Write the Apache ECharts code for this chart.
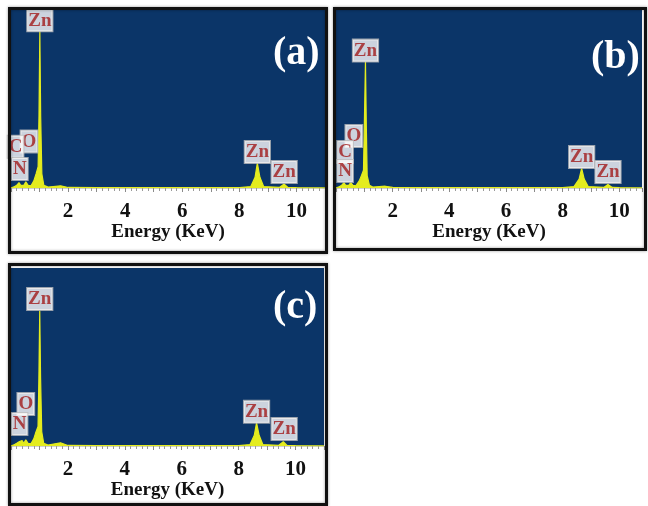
<!DOCTYPE html>
<html>
<head>
<meta charset="utf-8">
<script src="https://cdn.jsdelivr.net/npm/echarts@6/dist/echarts.min.js"></script>
<style>
  html, body { margin: 0; padding: 0; background: #fff; }
  #chart { width: 648px; height: 506px; }
</style>
</head>
<body>
<div id="chart"></div>
<script>
// EDS spectra, counts in % of the plot height
const spectrumA = [[0, 0], [0.1, 0.6], [0.2, 1.5], [0.28, 3], [0.34, 1.5], [0.39, 2.5], [0.45, 1.5], [0.52, 3.5], [0.6, 1.5], [0.7, 1.2], [0.8, 4], [0.88, 8], [0.95, 12], [0.98, 40], [1.01, 88], [1.04, 40], [1.08, 8], [1.15, 1.5], [1.3, 0.5], [1.74, 1.2], [2, 0.3], [3, 0.2], [4, 0.2], [5, 0.2], [6, 0.2], [7, 0.2], [8, 0.2], [8.4, 0.8], [8.55, 6], [8.63, 14], [8.72, 6], [8.85, 0.8], [9.4, 0.3], [9.57, 2.2], [9.7, 0.3], [10, 0.2], [11, 0.1]]
const spectrumB = [[0, 0], [0.1, 0.6], [0.2, 1.5], [0.28, 3], [0.34, 1.5], [0.39, 2.5], [0.45, 1.5], [0.52, 3], [0.6, 1.5], [0.7, 1.2], [0.82, 4], [0.9, 7], [0.97, 10], [1.0, 35], [1.04, 71], [1.07, 35], [1.1, 7], [1.18, 1.5], [1.3, 0.5], [1.74, 1], [2, 0.3], [3, 0.2], [4, 0.2], [5, 0.2], [6, 0.2], [7, 0.2], [8, 0.2], [8.4, 0.8], [8.58, 5], [8.67, 11], [8.76, 5], [8.9, 0.8], [9.45, 0.3], [9.6, 2], [9.75, 0.3], [10, 0.2], [10.8, 0.1]]
const spectrumC = [[0, 0], [0.1, 0.6], [0.2, 1.5], [0.3, 2.5], [0.39, 3], [0.45, 1.5], [0.52, 3.5], [0.6, 1.5], [0.7, 1.2], [0.8, 4], [0.88, 8], [0.95, 11], [0.98, 38], [1.01, 76], [1.04, 38], [1.08, 8], [1.15, 1.5], [1.3, 0.5], [1.74, 1.8], [2, 0.3], [3, 0.2], [4, 0.2], [5, 0.2], [6, 0.2], [7, 0.2], [8, 0.2], [8.4, 0.8], [8.55, 6], [8.63, 13], [8.72, 6], [8.85, 0.8], [9.4, 0.3], [9.57, 2.4], [9.7, 0.3], [10, 0.2], [11, 0.1]]

// peak labels: [element, energy, anchor height]
const labelsA = [['Zn', 1.01, 88], ['O', 0.63, 20], ['C', 0.16, 17], ['N', 0.31, 4.5], ['Zn', 8.63, 14], ['Zn', 9.57, 2.8]]
const labelsB = [['Zn', 1.04, 71], ['O', 0.63, 23], ['C', 0.32, 14], ['N', 0.32, 3.4], ['Zn', 8.67, 11.2], ['Zn', 9.6, 2.8]]
const labelsC = [['Zn', 1.01, 76.4], ['O', 0.52, 17.4], ['N', 0.3, 6.2], ['Zn', 8.63, 13], ['Zn', 9.6, 3.4]]

const panelNames = ['(a)', '(b)', '(c)']
const xMax = [11, 10.8, 11]
const xTitle = 'Energy (KeV)'

const serif = "'Liberation Serif', 'Times New Roman', serif"
const blue = '#0b3568'
const yellow = '#e4ec1e'

const chart = echarts.init(document.getElementById('chart'))

const grids = [
    {left: 11, top: 10, width: 314, height: 178},
    {left: 336, top: 10, width: 306, height: 178},
    {left: 11, top: 268, width: 313, height: 178}
]

const spectra = [spectrumA, spectrumB, spectrumC]
const labels = [labelsA, labelsB, labelsC]

const xAxes = grids.map((g, i) => ({
    type: 'value',
    gridIndex: i,
    min: 0,
    max: xMax[i],
    interval: 1,
    name: xTitle,
    nameLocation: 'middle',
    nameGap: 34,
    nameTextStyle: {fontFamily: serif, fontWeight: 'bold', fontSize: 19, color: '#111'},
    axisLine: {lineStyle: {color: '#d0d0d0', width: 1}},
    axisTick: {show: true, length: 4, lineStyle: {color: '#8a8a8a'}},
    minorTick: {show: true, splitNumber: 5, length: 3, lineStyle: {color: '#9a9a9a'}},
    splitLine: {show: false},
    axisLabel: {
        fontFamily: serif, fontWeight: 'bold', fontSize: 21, color: '#111', margin: 13,
        formatter: v => (v > 0 && v % 2 === 0) ? String(v) : ''
    }
}))

const yAxes = grids.map((g, i) => ({
    type: 'value',
    gridIndex: i,
    min: 0,
    max: 100,
    show: false
}))

const series = []
spectra.forEach((s, i) => {
    series.push({
        type: 'line',
        xAxisIndex: i,
        yAxisIndex: i,
        data: s,
        symbol: 'none',
        lineStyle: {color: yellow, width: 1.2},
        areaStyle: {color: yellow, opacity: 1},
        z: 2
    })
    series.push({
        type: 'scatter',
        xAxisIndex: i,
        yAxisIndex: i,
        symbolSize: 0,
        data: labels[i].map(l => ({value: [l[1], l[2]], name: l[0]})),
        label: {
            show: true,
            position: 'top',
            distance: 0,
            formatter: p => p.name,
            fontFamily: serif,
            fontWeight: 'bold',
            fontSize: 19,
            lineHeight: 21,
            color: '#a11b1b',
            backgroundColor: '#fcfbfb',
            borderColor: '#bdbdbd',
            borderWidth: 1,
            padding: [1, 1, 0, 1]
        },
        z: 5
    })
})

const option = {
    animation: false,
    backgroundColor: '#fff',
    title: [
        {text: panelNames[0], left: 268, top: 29},
        {text: panelNames[1], left: 586, top: 33},
        {text: panelNames[2], left: 268, top: 283}
    ].map(t => Object.assign(t, {
        textStyle: {fontFamily: serif, fontWeight: 'bold', fontSize: 40, color: '#fff'}
    })),
    grid: grids.map(g => Object.assign({show: true, backgroundColor: blue, borderWidth: 0}, g)),
    xAxis: xAxes,
    yAxis: yAxes,
    series: series,
    graphic: [
        {type: 'rect', shape: {x: 9.5, y: 8.5, width: 317, height: 244}, style: {fill: 'none', stroke: '#111', lineWidth: 3, shadowBlur: 3, shadowColor: 'rgba(0,0,0,0.4)'}, z: 10},
        {type: 'rect', shape: {x: 334.5, y: 8.5, width: 311, height: 241}, style: {fill: 'none', stroke: '#111', lineWidth: 3, shadowBlur: 3, shadowColor: 'rgba(0,0,0,0.4)'}, z: 10},
        {type: 'rect', shape: {x: 9.5, y: 264.5, width: 317, height: 240}, style: {fill: 'none', stroke: '#111', lineWidth: 3, shadowBlur: 3, shadowColor: 'rgba(0,0,0,0.4)'}, z: 10}
    ]
}

option && chart.setOption(option)
</script>
</body>
</html>
